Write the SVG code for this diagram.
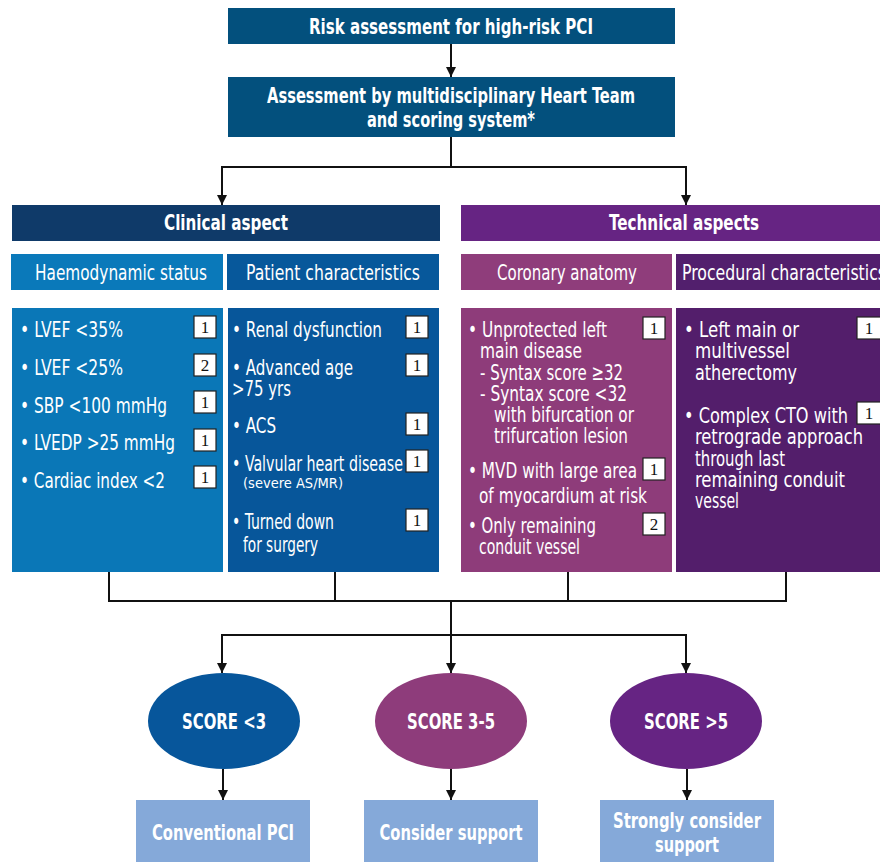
<svg xmlns="http://www.w3.org/2000/svg" width="880" height="862" viewBox="0 0 880 862">
<style>
.t{font-family:"DejaVu Sans","Liberation Sans",sans-serif;font-stretch:condensed;fill:#fff}
.b{font-weight:bold}
.c{text-anchor:middle}
.h{font-size:22px}
.s{font-size:22px}
.sm{font-size:14px}
.nb{fill:#fff;stroke:#222;stroke-width:1.2}
.n{font-family:"Liberation Serif","Times New Roman",serif;font-size:17px;fill:#111;text-anchor:middle}
.ln{fill:none;stroke:#111;stroke-width:2}
</style>
<defs>
<marker id="ar" viewBox="0 0 10 10" refX="10" refY="5" markerWidth="10" markerHeight="10" markerUnits="userSpaceOnUse" orient="auto">
<path d="M0,0 L10,5 L0,10 z" fill="#111"/>
</marker>
</defs>
<rect width="880" height="862" fill="#fff"/>

<g id="connectors">
<path class="ln" d="M451,44 V77" marker-end="url(#ar)"/>
<path class="ln" d="M451,137 V167 M222,167 H686"/>
<path class="ln" d="M222,166 V205" marker-end="url(#ar)"/>
<path class="ln" d="M686,166 V205" marker-end="url(#ar)"/>
<path class="ln" d="M109,572 V601 H786 V572 M335,572 V601 M568,572 V601"/>
<path class="ln" d="M451,601 V673" marker-end="url(#ar)"/>
<path class="ln" d="M222,635 H686"/>
<path class="ln" d="M222,634 V673" marker-end="url(#ar)"/>
<path class="ln" d="M686,634 V673" marker-end="url(#ar)"/>
<path class="ln" d="M223,769 V800" marker-end="url(#ar)"/>
<path class="ln" d="M451,769 V800" marker-end="url(#ar)"/>
<path class="ln" d="M687,769 V800" marker-end="url(#ar)"/>
</g>

<g id="risk">
<rect x="228" y="8" width="447" height="36" fill="#03507d"/>
<text class="t b h c" x="451" y="34" textLength="284" lengthAdjust="spacingAndGlyphs">Risk assessment for high-risk PCI</text>
</g>
<g id="heartteam">
<rect x="228" y="77" width="447" height="60" fill="#03507d"/>
<text class="t b h c" x="451" y="103" textLength="368" lengthAdjust="spacingAndGlyphs">Assessment by multidisciplinary Heart Team</text>
<text class="t b h c" x="451" y="127" textLength="168" lengthAdjust="spacingAndGlyphs">and scoring system*</text>
</g>

<g id="clinical">
<rect x="12" y="205" width="428" height="36" fill="#0f3a69"/>
<text class="t b h c" x="226" y="230" textLength="124" lengthAdjust="spacingAndGlyphs">Clinical aspect</text>
</g>
<g id="technical">
<rect x="461" y="205" width="419" height="36" fill="#662483"/>
<text class="t b h c" x="684" y="230" textLength="150" lengthAdjust="spacingAndGlyphs">Technical aspects</text>
</g>

<g id="haemo">
<rect x="11" y="254" width="212" height="36" fill="#0a79ba"/>
<text class="t s" x="35" y="280" textLength="172" lengthAdjust="spacingAndGlyphs">Haemodynamic status</text>
<rect x="12" y="308" width="211" height="264" fill="#0a77b7"/>
<text class="t s" x="20" y="337" textLength="103" lengthAdjust="spacingAndGlyphs">• LVEF &lt;35%</text>
<text class="t s" x="20" y="375" textLength="103" lengthAdjust="spacingAndGlyphs">• LVEF &lt;25%</text>
<text class="t s" x="20" y="413" textLength="147" lengthAdjust="spacingAndGlyphs">• SBP &lt;100 mmHg</text>
<text class="t s" x="20" y="450" textLength="155" lengthAdjust="spacingAndGlyphs">• LVEDP &gt;25 mmHg</text>
<text class="t s" x="20" y="488" textLength="145" lengthAdjust="spacingAndGlyphs">• Cardiac index &lt;2</text>
<rect class="nb" x="194" y="316" width="22" height="22"/><text class="n" x="205" y="333">1</text>
<rect class="nb" x="194" y="354" width="22" height="22"/><text class="n" x="205" y="371">2</text>
<rect class="nb" x="194" y="391" width="22" height="22"/><text class="n" x="205" y="408">1</text>
<rect class="nb" x="194" y="429" width="22" height="22"/><text class="n" x="205" y="446">1</text>
<rect class="nb" x="194" y="466" width="22" height="22"/><text class="n" x="205" y="483">1</text>
</g>

<g id="patient">
<rect x="227" y="254" width="212" height="36" fill="#07589b"/>
<text class="t s" x="246" y="280" textLength="174" lengthAdjust="spacingAndGlyphs">Patient characteristics</text>
<rect x="228" y="308" width="211" height="264" fill="#07569a"/>
<text class="t s" x="232" y="337" textLength="150" lengthAdjust="spacingAndGlyphs">• Renal dysfunction</text>
<text class="t s" x="232" y="375" textLength="121" lengthAdjust="spacingAndGlyphs">• Advanced age</text>
<text class="t s" x="232" y="396" textLength="59" lengthAdjust="spacingAndGlyphs">&gt;75 yrs</text>
<text class="t s" x="232" y="433" textLength="44" lengthAdjust="spacingAndGlyphs">• ACS</text>
<text class="t s" x="232" y="471" textLength="171" lengthAdjust="spacingAndGlyphs">• Valvular heart disease</text>
<text class="t sm" x="243" y="488" textLength="100" lengthAdjust="spacingAndGlyphs">(severe AS/MR)</text>
<text class="t s" x="232" y="529" textLength="102" lengthAdjust="spacingAndGlyphs">• Turned down</text>
<text class="t s" x="243" y="552" textLength="75" lengthAdjust="spacingAndGlyphs">for surgery</text>
<rect class="nb" x="406" y="316" width="22" height="22"/><text class="n" x="417" y="333">1</text>
<rect class="nb" x="406" y="354" width="22" height="22"/><text class="n" x="417" y="371">1</text>
<rect class="nb" x="406" y="413" width="22" height="22"/><text class="n" x="417" y="430">1</text>
<rect class="nb" x="406" y="450" width="22" height="22"/><text class="n" x="417" y="467">1</text>
<rect class="nb" x="406" y="509" width="22" height="22"/><text class="n" x="417" y="526">1</text>
</g>

<g id="coronary">
<rect x="461" y="254" width="211" height="36" fill="#8f3d7b"/>
<text class="t s" x="497" y="280" textLength="140" lengthAdjust="spacingAndGlyphs">Coronary anatomy</text>
<rect x="461" y="308" width="211" height="264" fill="#8e3c7a"/>
<text class="t s" x="468" y="337" textLength="139" lengthAdjust="spacingAndGlyphs">• Unprotected left</text>
<text class="t s" x="480" y="358" textLength="102" lengthAdjust="spacingAndGlyphs">main disease</text>
<text class="t s" x="480" y="380" textLength="143" lengthAdjust="spacingAndGlyphs">- Syntax score ≥32</text>
<text class="t s" x="480" y="401" textLength="147" lengthAdjust="spacingAndGlyphs">- Syntax score &lt;32</text>
<text class="t s" x="494" y="422" textLength="140" lengthAdjust="spacingAndGlyphs">with bifurcation or</text>
<text class="t s" x="494" y="443" textLength="134" lengthAdjust="spacingAndGlyphs">trifurcation lesion</text>
<text class="t s" x="468" y="478" textLength="169" lengthAdjust="spacingAndGlyphs">• MVD with large area</text>
<text class="t s" x="479" y="503" textLength="168" lengthAdjust="spacingAndGlyphs">of myocardium at risk</text>
<text class="t s" x="468" y="533" textLength="128" lengthAdjust="spacingAndGlyphs">• Only remaining</text>
<text class="t s" x="479" y="554" textLength="101" lengthAdjust="spacingAndGlyphs">conduit vessel</text>
<rect class="nb" x="643" y="317" width="22" height="22"/><text class="n" x="654" y="334">1</text>
<rect class="nb" x="643" y="458" width="22" height="22"/><text class="n" x="654" y="475">1</text>
<rect class="nb" x="643" y="513" width="22" height="22"/><text class="n" x="654" y="530">2</text>
</g>

<g id="procedural">
<rect x="676" y="254" width="204" height="36" fill="#521f6d"/>
<text class="t s" x="682" y="280" textLength="204" lengthAdjust="spacingAndGlyphs">Procedural characteristics</text>
<rect x="676" y="308" width="204" height="264" fill="#531e6b"/>
<text class="t s" x="684" y="337" textLength="115" lengthAdjust="spacingAndGlyphs">• Left main or</text>
<text class="t s" x="695" y="358" textLength="95" lengthAdjust="spacingAndGlyphs">multivessel</text>
<text class="t s" x="695" y="380" textLength="102" lengthAdjust="spacingAndGlyphs">atherectomy</text>
<text class="t s" x="684" y="423" textLength="164" lengthAdjust="spacingAndGlyphs">• Complex CTO with</text>
<text class="t s" x="695" y="444" textLength="168" lengthAdjust="spacingAndGlyphs">retrograde approach</text>
<text class="t s" x="695" y="466" textLength="90" lengthAdjust="spacingAndGlyphs">through last</text>
<text class="t s" x="695" y="487" textLength="150" lengthAdjust="spacingAndGlyphs">remaining conduit</text>
<text class="t s" x="695" y="508" textLength="44" lengthAdjust="spacingAndGlyphs">vessel</text>
<rect class="nb" x="857" y="317" width="24" height="22"/><text class="n" x="869" y="334">1</text>
<rect class="nb" x="857" y="402" width="24" height="22"/><text class="n" x="869" y="419">1</text>
</g>

<g id="score1">
<ellipse cx="224" cy="721" rx="76" ry="48" fill="#07569b"/>
<text class="t b h c" x="224" y="729" textLength="84" lengthAdjust="spacingAndGlyphs">SCORE &lt;3</text>
</g>
<g id="score2">
<ellipse cx="451" cy="721" rx="76" ry="48" fill="#8e3c7b"/>
<text class="t b h c" x="451" y="729" textLength="88" lengthAdjust="spacingAndGlyphs">SCORE 3-5</text>
</g>
<g id="score3">
<ellipse cx="686" cy="721" rx="76" ry="48" fill="#662483"/>
<text class="t b h c" x="686" y="729" textLength="84" lengthAdjust="spacingAndGlyphs">SCORE &gt;5</text>
</g>

<g id="conventional">
<rect x="136" y="800" width="174" height="62" fill="#85a9d9"/>
<text class="t b h c" x="223" y="840" textLength="142" lengthAdjust="spacingAndGlyphs">Conventional PCI</text>
</g>
<g id="consider">
<rect x="364" y="800" width="174" height="62" fill="#85a9d9"/>
<text class="t b h c" x="451" y="840" textLength="143" lengthAdjust="spacingAndGlyphs">Consider support</text>
</g>
<g id="strongly">
<rect x="600" y="800" width="174" height="62" fill="#85a9d9"/>
<text class="t b h c" x="687" y="828" textLength="148" lengthAdjust="spacingAndGlyphs">Strongly consider</text>
<text class="t b h c" x="687" y="852" textLength="64" lengthAdjust="spacingAndGlyphs">support</text>
</g>
</svg>
